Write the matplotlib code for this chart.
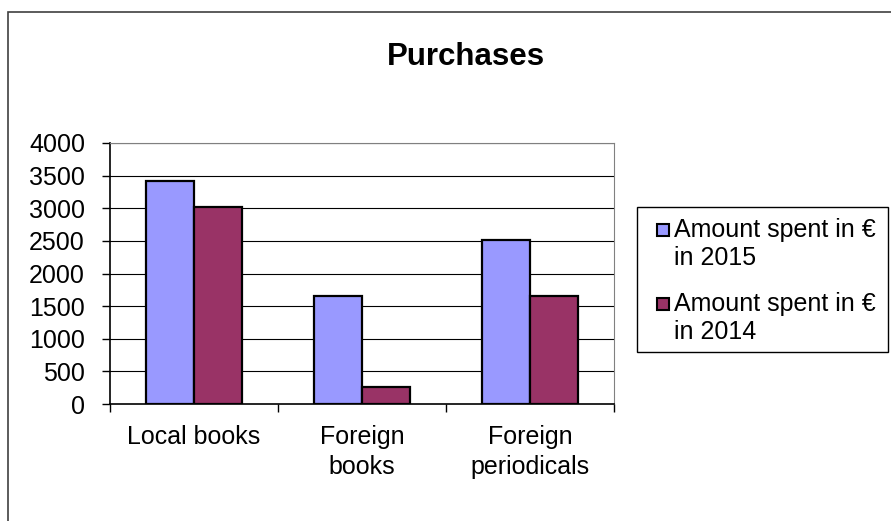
import numpy as np
import matplotlib.pyplot as plt
from matplotlib.patches import Rectangle

plt.rcParams['font.family'] = ['Liberation Sans', 'DejaVu Sans']

# Data
categories = ["Local books", "Foreign\nbooks", "Foreign\nperiodicals"]
spent_2015 = [3410, 1660, 2510]
spent_2014 = [3020, 260, 1650]
series_labels = ["Amount spent in \u20ac\nin 2015", "Amount spent in \u20ac\nin 2014"]
series_colors = ["#9999FF", "#993366"]
yticks = [0, 500, 1000, 1500, 2000, 2500, 3000, 3500, 4000]

W, H = 891, 521
fig = plt.figure(figsize=(W / 100, H / 100), dpi=100)


def fx(px):
    return px / W


def fy(py):
    return 1 - py / H


# outer chart frame (cut off on the right and bottom)
fig.patches.append(Rectangle((fx(8), -0.05), 1.1, fy(12) + 0.05,
                             transform=fig.transFigure, fill=False,
                             edgecolor="#404040", linewidth=1.2))

ax = fig.add_axes([fx(110), fy(404), fx(614 - 110), (404 - 143) / H])

x = np.arange(len(categories))
bw = 48 / 168
ax.bar(x - bw / 2, spent_2015, bw, color=series_colors[0], edgecolor="black",
       linewidth=1.6, zorder=3)
ax.bar(x + bw / 2, spent_2014, bw, color=series_colors[1], edgecolor="black",
       linewidth=1.6, zorder=3)

ax.set_xlim(-0.5, 2.5)
ax.set_ylim(0, 4000)
ax.set_yticks(yticks)
ax.set_yticklabels([str(v) for v in yticks], fontsize=18)
for v in yticks[1:]:
    ax.axhline(v, color="black", linewidth=0.8, zorder=1)

ax.set_xticks([-0.5, 0.5, 1.5, 2.5])
ax.set_xticklabels([])
ax.set_xticks(x, minor=True)
ax.set_xticklabels(categories, minor=True, fontsize=18, linespacing=1.3)
ax.tick_params(axis="x", which="minor", length=0, pad=15)
ax.tick_params(axis="x", which="major", direction="out", length=6, width=1)
ax.tick_params(axis="y", direction="out", length=6, width=1, pad=12)

ax.spines["top"].set_color("#808080")
ax.spines["right"].set_color("#808080")
ax.spines["left"].set_linewidth(1.2)
ax.spines["bottom"].set_linewidth(1.2)

fig.text(fx(466), fy(57), "Purchases", fontsize=22.5, fontweight="bold",
         ha="center", va="center")

# legend box drawn by hand so the markers sit on the first text line
fig.patches.append(Rectangle((fx(637), fy(352)), fx(888 - 637), (352 - 207) / H,
                             transform=fig.transFigure, facecolor="white",
                             edgecolor="black", linewidth=1))
for i, (lab, col) in enumerate(zip(series_labels, series_colors)):
    base = 237 + i * 74
    fig.patches.append(Rectangle((fx(657), fy(base - 1)), fx(12), 12 / H,
                                 transform=fig.transFigure, facecolor=col,
                                 edgecolor="black", linewidth=1.5))
    fig.text(fx(674), fy(base), lab.split("\n")[0], fontsize=18,
             ha="left", va="baseline")
    fig.text(fx(674), fy(base + 28), lab.split("\n")[1], fontsize=18,
             ha="left", va="baseline")

fig.savefig("out.png", dpi=100)
